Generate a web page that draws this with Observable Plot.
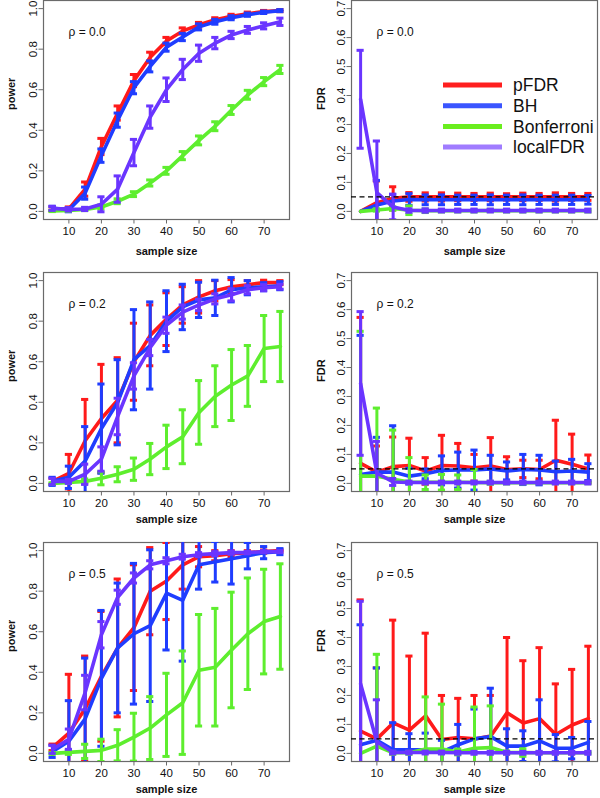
<!DOCTYPE html>
<html><head><meta charset="utf-8">
<script src="https://cdn.jsdelivr.net/npm/d3@7"></script>
<script src="https://cdn.jsdelivr.net/npm/@observablehq/plot@0.6"></script>
<style>
body{margin:0;background:#fff;}
#wrap{position:relative;width:600px;height:798px;overflow:hidden;font-family:"Liberation Sans",Arial,sans-serif;background:#fff;}
.panel{position:absolute;}
.panel svg{overflow:visible;}
#legend{position:absolute;left:440px;top:72px;}
</style></head><body><div id="wrap"></div>
<script>
const sampleSize = [5,10,15,20,25,30,35,40,45,50,55,60,65,70,75];
const methods = ["pFDR","BH","Bonferroni","localFDR"];
const methodColors = ["#ff1a1a","#1f3dff","#5eee2e","#6a35ff"];
const legendColors = ["#ff1f1f","#3a55ff","#6aee1e","#a07cff"];
const xTicks = [10,20,30,40,50,60,70];
const powerTicks = [0,0.2,0.4,0.6,0.8,1.0];
const fdrTicks = [0,0.1,0.2,0.3,0.4,0.5,0.6,0.7];
const rhoLabels = ["0.0","0.2","0.5"];
const fdrTarget = [0.05];

// power, rho = 0.0
const pow00_pFDR    = [0.012,0.012,0.11,0.32,0.485,0.645,0.76,0.84,0.89,0.92,0.945,0.962,0.975,0.985,0.99];
const pow00_pFDR_sd = [0.01,0.01,0.035,0.04,0.035,0.03,0.025,0.018,0.015,0.012,0.01,0.01,0.008,0.006,0.005];
const pow00_BH      = [0.015,0.008,0.09,0.275,0.45,0.61,0.715,0.81,0.86,0.91,0.935,0.955,0.97,0.982,0.99];
const pow00_BH_sd   = [0.01,0.01,0.03,0.033,0.035,0.03,0.027,0.02,0.018,0.015,0.012,0.01,0.008,0.006,0.005];
const pow00_Bonf    = [0.002,0.005,0.01,0.022,0.05,0.085,0.14,0.2,0.275,0.35,0.42,0.5,0.575,0.64,0.7];
const pow00_Bonf_sd = [0.003,0.004,0.006,0.01,0.012,0.012,0.015,0.017,0.02,0.022,0.022,0.022,0.022,0.02,0.02];
const pow00_local   = [0.015,0.01,0.012,0.035,0.11,0.29,0.465,0.6,0.7,0.78,0.83,0.87,0.895,0.915,0.935];
const pow00_local_sd= [0.01,0.008,0.008,0.037,0.065,0.065,0.055,0.058,0.05,0.04,0.028,0.018,0.017,0.015,0.018];

// FDR, rho = 0.0
const fdr00_pFDR    = [0,0.03,0.045,0.05,0.05,0.05,0.05,0.05,0.05,0.05,0.05,0.05,0.05,0.05,0.05];
const fdr00_pFDR_sd = [0,0.075,0.04,0.015,0.014,0.014,0.013,0.012,0.013,0.011,0.013,0.012,0.014,0.012,0.012];
const fdr00_BH      = [0,0.022,0.036,0.041,0.04,0.04,0.04,0.04,0.04,0.04,0.04,0.04,0.04,0.04,0.04];
const fdr00_BH_sd   = [0,0.085,0.023,0.02,0.017,0.017,0.016,0.016,0.017,0.016,0.017,0.016,0.016,0.016,0.015];
const fdr00_Bonf    = [0,0.005,0.01,0.004,0.002,0.002,0.002,0.002,0.003,0.002,0.002,0.002,0.002,0.002,0.002];
const fdr00_Bonf_sd = [0,0.004,0.006,0.015,0.006,0.004,0.004,0.004,0.004,0.004,0.004,0.004,0.004,0.004,0.004];
const fdr00_local   = [0.387,0.065,0.015,0.003,0.003,0.003,0.003,0.003,0.003,0.003,0.003,0.003,0.003,0.003,0.003];
const fdr00_local_sd= [0.169,0.178,0.044,0.006,0.006,0.005,0.005,0.005,0.005,0.005,0.005,0.005,0.005,0.005,0.005];

// power, rho = 0.2
const pow02_pFDR    = [0.01,0.05,0.21,0.32,0.41,0.6,0.73,0.81,0.88,0.92,0.95,0.97,0.98,0.99,0.99];
const pow02_pFDR_sd = [0.015,0.093,0.204,0.267,0.21,0.19,0.15,0.13,0.09,0.08,0.05,0.035,0.02,0.012,0.01];
const pow02_BH      = [0.01,0.03,0.11,0.27,0.4,0.61,0.68,0.8,0.87,0.905,0.915,0.955,0.965,0.97,0.975];
const pow02_BH_sd   = [0.02,0.055,0.17,0.22,0.21,0.247,0.215,0.15,0.112,0.087,0.087,0.06,0.035,0.02,0.02];
const pow02_Bonf    = [0,0.005,0.01,0.025,0.045,0.07,0.12,0.18,0.23,0.35,0.43,0.485,0.53,0.665,0.675];
const pow02_Bonf_sd = [0.003,0.005,0.012,0.032,0.037,0.055,0.077,0.107,0.133,0.157,0.15,0.175,0.15,0.163,0.173];
const pow02_local   = [0.01,0.01,0.045,0.12,0.33,0.53,0.67,0.78,0.845,0.88,0.91,0.93,0.955,0.965,0.97];
const pow02_local_sd= [0.015,0.01,0.05,0.06,0.09,0.065,0.04,0.04,0.035,0.028,0.025,0.03,0.02,0.015,0.012];

// FDR, rho = 0.2
const fdr02_pFDR    = [0.069,0.039,0.058,0.062,0.043,0.062,0.06,0.054,0.06,0.048,0.05,0.048,0.08,0.066,0.05];
const fdr02_pFDR_sd = [0.504,0.09,0.102,0.094,0.046,0.104,0.078,0.046,0.098,0.044,0.03,0.032,0.138,0.104,0.048];
const fdr02_BH      = [0.031,0.039,0.039,0.025,0.033,0.045,0.046,0.046,0.05,0.043,0.048,0.046,0.04,0.043,0.039];
const fdr02_BH_sd   = [0.48,0.12,0.16,0.027,0.017,0.05,0.062,0.069,0.047,0.031,0.052,0.051,0.037,0.04,0.029];
const fdr02_Bonf    = [0.025,0.025,0.014,0.005,0.004,0.004,0.004,0.003,0.002,0.002,0.002,0.002,0.002,0.002,0.002];
const fdr02_Bonf_sd = [0.5,0.235,0.17,0.084,0.025,0.027,0.025,0.045,0.005,0.004,0.004,0.003,0.003,0.003,0.003];
const fdr02_local   = [0.345,0.035,0.005,0.003,0.003,0.003,0.003,0.003,0.003,0.003,0.003,0.003,0.003,0.003,0.003];
const fdr02_local_sd= [0.248,0.11,0.012,0.005,0.005,0.005,0.005,0.005,0.005,0.005,0.005,0.005,0.005,0.005,0.005];

// power, rho = 0.5
const pow05_pFDR    = [0.03,0.1,0.22,0.38,0.52,0.62,0.8,0.85,0.93,0.97,0.975,0.985,0.99,0.995,1.0];
const pow05_pFDR_sd = [0.016,0.29,0.26,0.32,0.34,0.31,0.215,0.19,0.12,0.05,0.025,0.015,0.01,0.008,0.005];
const pow05_BH      = [0.01,0.06,0.17,0.37,0.52,0.59,0.63,0.79,0.755,0.93,0.945,0.96,0.975,0.99,0.995];
const pow05_BH_sd   = [0.03,0.2,0.3,0.335,0.32,0.347,0.374,0.28,0.3,0.12,0.1,0.125,0.065,0.03,0.015];
const pow05_Bonf    = [0,0.005,0.01,0.015,0.04,0.08,0.125,0.19,0.25,0.41,0.425,0.51,0.59,0.65,0.675];
const pow05_Bonf_sd = [0.005,0.01,0.035,0.055,0.077,0.118,0.155,0.205,0.255,0.275,0.29,0.285,0.275,0.258,0.26];
const pow05_local   = [0.02,0.07,0.3,0.585,0.77,0.865,0.93,0.95,0.97,0.98,0.985,0.99,0.99,0.995,0.995];
const pow05_local_sd= [0.02,0.05,0.085,0.065,0.035,0.025,0.02,0.015,0.012,0.01,0.01,0.008,0.006,0.005,0.005];

// FDR, rho = 0.5
const fdr05_pFDR    = [0.077,0.05,0.105,0.08,0.13,0.048,0.055,0.05,0.06,0.14,0.105,0.12,0.065,0.098,0.12];
const fdr05_pFDR_sd = [0.453,0.245,0.355,0.256,0.285,0.152,0.135,0.15,0.14,0.26,0.215,0.245,0.175,0.192,0.25];
const fdr05_BH      = [0.03,0.045,0.012,0.012,0.012,0.005,0.03,0.05,0.058,0.025,0.025,0.043,0.018,0.018,0.038];
const fdr05_BH_sd   = [0.414,0.25,0.094,0.056,0.058,0.04,0.07,0.103,0.167,0.06,0.053,0.142,0.047,0.037,0.072];
const fdr05_Bonf    = [0,0.025,0.002,0.002,0.015,0.015,0.005,0.018,0.02,0.003,0.003,0.002,0.002,0.002,0.002];
const fdr05_Bonf_sd = [0,0.317,0.005,0.005,0.18,0.155,0.01,0.142,0.144,0.005,0.013,0.003,0.003,0.003,0.003];
const fdr05_local   = [0.24,0.04,0.003,0.003,0.003,0.003,0.002,0.002,0.002,0.002,0.002,0.002,0.002,0.002,0.002];
const fdr05_local_sd= [0.285,0.145,0.005,0.005,0.005,0.005,0.005,0.005,0.005,0.005,0.005,0.005,0.005,0.005,0.005];

const panels = [
  {row:0,col:0,kind:"power",rho:rhoLabels[0],series:[[pow00_pFDR,pow00_pFDR_sd],[pow00_BH,pow00_BH_sd],[pow00_Bonf,pow00_Bonf_sd],[pow00_local,pow00_local_sd]]},
  {row:0,col:1,kind:"FDR",rho:rhoLabels[0],series:[[fdr00_pFDR,fdr00_pFDR_sd],[fdr00_BH,fdr00_BH_sd],[fdr00_Bonf,fdr00_Bonf_sd],[fdr00_local,fdr00_local_sd]]},
  {row:1,col:0,kind:"power",rho:rhoLabels[1],series:[[pow02_pFDR,pow02_pFDR_sd],[pow02_BH,pow02_BH_sd],[pow02_Bonf,pow02_Bonf_sd],[pow02_local,pow02_local_sd]]},
  {row:1,col:1,kind:"FDR",rho:rhoLabels[1],series:[[fdr02_pFDR,fdr02_pFDR_sd],[fdr02_BH,fdr02_BH_sd],[fdr02_Bonf,fdr02_Bonf_sd],[fdr02_local,fdr02_local_sd]]},
  {row:2,col:0,kind:"power",rho:rhoLabels[2],series:[[pow05_pFDR,pow05_pFDR_sd],[pow05_BH,pow05_BH_sd],[pow05_Bonf,pow05_Bonf_sd],[pow05_local,pow05_local_sd]]},
  {row:2,col:1,kind:"FDR",rho:rhoLabels[2],series:[[fdr05_pFDR,fdr05_pFDR_sd],[fdr05_BH,fdr05_BH_sd],[fdr05_Bonf,fdr05_Bonf_sd],[fdr05_local,fdr05_local_sd]]}
];

const rowTop = [-1, 271, 541];
const rowHeight = [265, 265, 257];
const capHalf = 1.1;
const wrap = document.getElementById("wrap");
const fontFamily = '"Liberation Sans", Arial, Helvetica, sans-serif';

panels.forEach(p => {
  const isPower = p.kind === "power";
  const rows = methods.map((m, k) => sampleSize.map((x, i) => ({
    x, method: m, mean: p.series[k][0][i], sd: p.series[k][1][i]
  })));
  const marks = [Plot.frame({stroke: "#6a6a6a", strokeWidth: 1.2})];
  rows.forEach((r, k) => {
    const c = methodColors[k];
    const bars = r.filter(d => d.sd > 0);
    marks.push(Plot.line(r, {x: "x", y: "mean", stroke: c, strokeWidth: 3.6, clip: true}));
    marks.push(Plot.ruleX(bars, {x: "x", y1: d => d.mean - d.sd, y2: d => d.mean + d.sd, stroke: c, strokeWidth: 3, clip: true}));
    marks.push(Plot.ruleY(bars, {y: d => d.mean + d.sd, x1: d => d.x - capHalf, x2: d => d.x + capHalf, stroke: c, strokeWidth: 3, clip: true}));
    marks.push(Plot.ruleY(bars, {y: d => d.mean - d.sd, x1: d => d.x - capHalf, x2: d => d.x + capHalf, stroke: c, strokeWidth: 3, clip: true}));
  });
  if (!isPower) marks.push(Plot.ruleY(fdrTarget, {stroke: "#000", strokeWidth: 1.3, strokeDasharray: "5,3.5"}));
  marks.push(Plot.axisX({ticks: xTicks, tickSize: 4.5, tickPadding: 3, label: null, stroke: "#6a6a6a", fill: "#111", fontSize: 11.5}));
  marks.push(Plot.axisY({ticks: isPower ? powerTicks : fdrTicks, tickFormat: d3.format(".1f"), tickRotate: -90, tickSize: 4.5, tickPadding: 2, label: null, stroke: "#6a6a6a", fill: "#111", fontSize: 11.5}));
  marks.push(Plot.text(["ρ = " + p.rho], {frameAnchor: "top-left", dx: 25, dy: 27, textAnchor: "start", fontSize: 12, fill: "#111"}));
  marks.push(Plot.text([isPower ? "power" : "FDR"], {frameAnchor: "left", dx: isPower ? -32 : -30, rotate: -90, fontWeight: "bold", fontSize: 11, fill: "#111"}));
  marks.push(Plot.text(["sample size"], {frameAnchor: "bottom", dy: p.row === 0 ? 35 : 31, fontWeight: "bold", fontSize: 11, fill: "#111"}));

  const chart = Plot.plot({
    width: 300,
    height: rowHeight[p.row],
    marginTop: 1,
    marginBottom: rowHeight[p.row] - 1 - 219,
    marginLeft: p.col === 0 ? 43 : 51,
    marginRight: p.col === 0 ? 11 : 3,
    style: {fontFamily, fontSize: "11.5px", background: "transparent", overflow: "visible"},
    x: {domain: [2.2, 77.8]},
    y: {domain: isPower ? [-0.04, 1.04] : [-0.028, 0.728]},
    marks
  });
  const div = document.createElement("div");
  div.className = "panel";
  div.style.left = (p.col * 300) + "px";
  div.style.top = rowTop[p.row] + "px";
  div.appendChild(chart);
  wrap.appendChild(div);
});

// legend (top-right panel)
const legend = d3.select(wrap).append("svg").attr("id", "legend").attr("width", 160).attr("height", 90);
methods.forEach((m, k) => {
  const y = 13 + k * 20.7;
  legend.append("line").attr("x1", 3).attr("x2", 62).attr("y1", y).attr("y2", y)
    .attr("stroke", legendColors[k]).attr("stroke-width", 5);
  legend.append("text").attr("x", 73).attr("y", y).attr("dy", "0.35em")
    .attr("font-family", fontFamily).attr("font-size", 17.5).attr("fill", "#111").text(m);
});
</script></body></html>
